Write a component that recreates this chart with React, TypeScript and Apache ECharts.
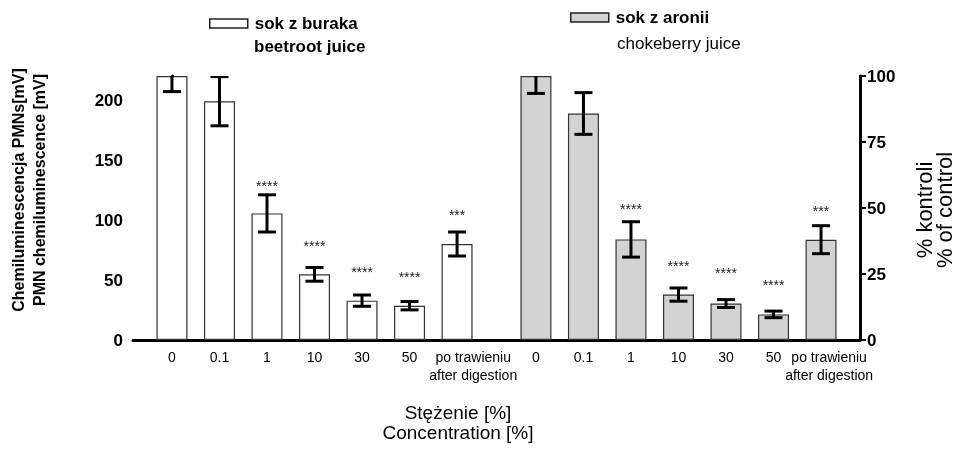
import React, { useEffect, useRef } from "react";
import * as echarts from "echarts";

// ---- data ----
const concLabels = ["0", "0.1", "1", "10", "30", "50", "po trawieniu\nafter digestion"];
// beetroot juice (left axis, mV)
const beetValues = [220, 199, 105.5, 54.7, 32.8, 28.6, 80];
const beetErrors = [13, 20.5, 15.5, 5.7, 4.7, 3.5, 10];
const beetStars = ["", "", "****", "****", "****", "****", "***"];
const beetStarLevel = [0, 0, 128.5, 78.5, 56.4, 52.4, 104.4];
// chokeberry juice (right axis, % of control)
const aroniaValues = [100, 85.8, 38.1, 17.2, 13.8, 9.7, 38.0];
const aroniaErrors = [6.6, 7.9, 6.7, 2.5, 1.5, 1.25, 5.3];
const aroniaStars = ["", "", "****", "****", "****", "****", "***"];
const aroniaStarLevel = [0, 0, 49.8, 28.2, 25.2, 20.9, 48.8];

const leftTicks = [0, 50, 100, 150, 200];

const FONT = "'Liberation Sans', Arial, Helvetica, sans-serif";
const GROUP_GAP = 7.66; // x offset of second group (in bar-spacing units)
// small label nudges (in bar-spacing units) for the two-line labels
const LEFT_LABEL_NUDGE = 0.34;
const RIGHT_LABEL_NUDGE = 0.17;

const beetPos = beetValues.map((_, i) => i);
const aroniaPos = aroniaValues.map((_, i) => GROUP_GAP + i);
const allLabels = [...concLabels, ...concLabels];
const labelPos = [
  ...beetPos.map((p, i) => (concLabels[i].indexOf("\n") >= 0 ? p + LEFT_LABEL_NUDGE : p)),
  ...aroniaPos.map((p, i) => (concLabels[i].indexOf("\n") >= 0 ? p + RIGHT_LABEL_NUDGE : p)),
];

function errorRender(params: any, api: any) {
  const x = api.value(0);
  const v = api.value(1);
  const e = api.value(2);
  const top = api.coord([x, v + e]);
  const bot = api.coord([x, v - e]);
  const hw = 9;
  const style = { stroke: "#000", lineWidth: 3 };
  return {
    type: "group",
    children: [
      { type: "line", shape: { x1: top[0], y1: top[1], x2: bot[0], y2: bot[1] }, style },
      { type: "line", shape: { x1: top[0] - hw, y1: top[1], x2: top[0] + hw, y2: top[1] }, style },
      { type: "line", shape: { x1: bot[0] - hw, y1: bot[1], x2: bot[0] + hw, y2: bot[1] }, style },
    ],
  };
}

function starRender(params: any, api: any) {
  const x = api.value(0);
  const y = api.value(1);
  const label = api.value(2);
  const p = api.coord([x, y]);
  return {
    type: "text",
    x: p[0],
    y: p[1],
    style: {
      text: String(label),
      fill: "#222",
      font: `14px ${FONT}`,
      align: "center",
      verticalAlign: "middle",
    },
  };
}

export default function App() {
  const ref = useRef<HTMLDivElement>(null);
  useEffect(() => {
    if (!ref.current) return;
    const chart = echarts.init(ref.current, undefined, { renderer: "svg" });
    const beetStarData = beetPos
      .map((x, i) => [x, beetStarLevel[i], beetStars[i]])
      .filter((d) => d[2] !== "");
    const aroniaStarData = aroniaPos
      .map((x, i) => [x, aroniaStarLevel[i], aroniaStars[i]])
      .filter((d) => d[2] !== "");

    const option: any = {
      animation: false,
      textStyle: { fontFamily: FONT },
      grid: { left: 133, right: 100, top: 76, bottom: 116 },
      legend: [
        {
          data: ["sok z buraka"],
          left: 209,
          top: 15,
          padding: 0,
          icon: "rect",
          itemWidth: 38,
          itemHeight: 9,
          itemStyle: { color: "#fff", borderColor: "#222", borderWidth: 1.5 },
          textStyle: {
            fontFamily: FONT,
            fontSize: 17,
            fontWeight: "bold",
            color: "#000",
            padding: [0, 0, 0, 2],
          },
        },
        {
          data: ["sok z aronii"],
          left: 570,
          top: 9,
          padding: 0,
          icon: "rect",
          itemWidth: 38,
          itemHeight: 9,
          itemStyle: { color: "#d3d3d3", borderColor: "#222", borderWidth: 1.5 },
          textStyle: {
            fontFamily: FONT,
            fontSize: 17,
            fontWeight: "bold",
            color: "#000",
            padding: [0, 0, 0, 2],
          },
        },
      ],
      xAxis: {
        type: "value",
        min: -0.82,
        max: 14.48,
        splitLine: { show: false },
        axisTick: { show: false },
        axisLine: { lineStyle: { color: "#000", width: 3 } },
        axisLabel: {
          customValues: labelPos,
          showMinLabel: true,
          showMaxLabel: true,
          margin: 8,
          color: "#000",
          fontFamily: FONT,
          fontSize: 14,
          lineHeight: 18,
          formatter: (v: number) => {
            const i = labelPos.findIndex((p) => Math.abs(p - v) < 1e-6);
            return i >= 0 ? allLabels[i] : "";
          },
        },
      },
      yAxis: [
        {
          type: "value",
          min: 0,
          max: 220,
          splitLine: { show: false },
          axisLine: { show: true, lineStyle: { color: "#000", width: 3 } },
          axisTick: { show: true, customValues: leftTicks, length: 8, lineStyle: { color: "#000", width: 2 } },
          axisLabel: {
            customValues: leftTicks,
            margin: 10,
            color: "#000",
            fontFamily: FONT,
            fontSize: 17,
            fontWeight: "bold",
          },
        },
        {
          type: "value",
          position: "right",
          min: 0,
          max: 100,
          interval: 25,
          splitLine: { show: false },
          axisLine: { show: true, lineStyle: { color: "#000", width: 3 } },
          axisTick: { show: true, length: 6, lineStyle: { color: "#000", width: 2 } },
          axisLabel: {
            margin: 7,
            color: "#000",
            fontFamily: FONT,
            fontSize: 17,
            fontWeight: "bold",
          },
        },
      ],
      series: [
        {
          name: "sok z buraka",
          type: "bar",
          yAxisIndex: 0,
          barWidth: 31,
          barGap: "-100%",
          data: beetPos.map((x, i) => [x, beetValues[i]]),
          itemStyle: { color: "#fff", borderColor: "#333", borderWidth: 1.2 },
        },
        {
          name: "sok z aronii",
          type: "bar",
          yAxisIndex: 1,
          barWidth: 31,
          barGap: "-100%",
          data: aroniaPos.map((x, i) => [x, aroniaValues[i]]),
          itemStyle: { color: "#d3d3d3", borderColor: "#333", borderWidth: 1.2 },
        },
        {
          type: "custom",
          yAxisIndex: 0,
          clip: true,
          renderItem: errorRender,
          data: beetPos.map((x, i) => [x, beetValues[i], beetErrors[i]]),
          z: 5,
        },
        {
          type: "custom",
          yAxisIndex: 1,
          clip: true,
          renderItem: errorRender,
          data: aroniaPos.map((x, i) => [x, aroniaValues[i], aroniaErrors[i]]),
          z: 5,
        },
        {
          type: "custom",
          yAxisIndex: 0,
          renderItem: starRender,
          dimensions: ["x", "y", { name: "s", type: "ordinal" }],
          data: beetStarData,
          z: 6,
        },
        {
          type: "custom",
          yAxisIndex: 1,
          renderItem: starRender,
          dimensions: ["x", "y", { name: "s", type: "ordinal" }],
          data: aroniaStarData,
          z: 6,
        },
      ],
      graphic: [
        {
          type: "text",
          x: 254,
          y: 46,
          style: {
            text: "beetroot juice",
            font: `bold 17px ${FONT}`,
            fill: "#000",
            align: "left",
            verticalAlign: "middle",
          },
        },
        {
          type: "text",
          x: 617,
          y: 43,
          style: {
            text: "chokeberry juice",
            font: `17px ${FONT}`,
            fill: "#000",
            align: "left",
            verticalAlign: "middle",
          },
        },
        {
          type: "text",
          x: 29,
          y: 190,
          rotation: Math.PI / 2,
          style: {
            text: "Chemiluminescencja PMNs[mV]\nPMN chemiluminescence [mV]",
            font: `bold 16px ${FONT}`,
            fill: "#000",
            align: "center",
            verticalAlign: "middle",
            lineHeight: 21,
          },
        },
        {
          type: "text",
          x: 934,
          y: 210,
          rotation: Math.PI / 2,
          style: {
            text: "% kontroli\n% of control",
            font: `22px ${FONT}`,
            fill: "#000",
            align: "center",
            verticalAlign: "middle",
            lineHeight: 20,
          },
        },
        {
          type: "text",
          x: 458,
          y: 422,
          style: {
            text: "Stężenie [%]\nConcentration [%]",
            font: `19px ${FONT}`,
            fill: "#000",
            align: "center",
            verticalAlign: "middle",
            lineHeight: 20,
          },
        },
      ],
    };
    chart.setOption(option);
    return () => chart.dispose();
  }, []);
  return (
    <div
      ref={ref}
      style={{ position: "fixed", left: 0, top: 0, width: 960, height: 456 }}
    />
  );
}
